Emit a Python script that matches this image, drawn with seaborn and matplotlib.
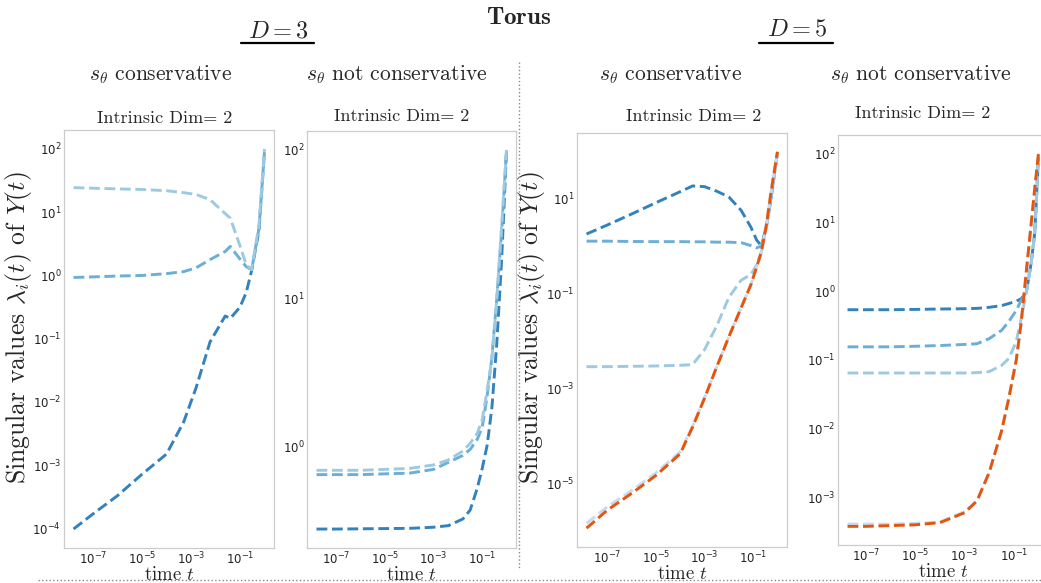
import matplotlib.pyplot as plt
import seaborn as sns
import pandas as pd
from matplotlib.lines import Line2D

# ---- data (singular values vs time) ----
# D = 3, s_theta conservative
t_d3_cons = [1.6e-8, 1e-7, 1e-6, 1e-5, 1e-4, 5e-4, 1.6e-3, 6e-3, 2.5e-2, 4e-2, 0.1, 0.18, 0.3, 0.6, 1.0]
sv1_d3_cons = [9.8e-5, 1.7e-4, 3.3e-4, 7.2e-4, 1.5e-3, 4.8e-3, 1.66e-2, 8.9e-2, 0.229, 0.209, 0.316, 0.537, 1.2, 5.25, 89]
sv2_d3_cons = [0.93, 0.95, 0.98, 1.0, 1.07, 1.15, 1.32, 1.78, 2.4, 2.88, 1.82, 1.38, 1.23, 5.6, 89]
sv3_d3_cons = [24.5, 24.0, 23.4, 22.9, 21.9, 20.4, 19.1, 15.8, 9.5, 8.1, 2.95, 1.48, 1.24, 6.3, 100]

# D = 3, s_theta not conservative
t_d3_ncons = [1.5e-8, 1e-7, 1e-6, 1e-5, 1e-4, 1e-3, 4e-3, 1.6e-2, 3.2e-2, 6.3e-2, 0.1, 0.16, 0.25, 0.4, 0.63, 1.0]
sv1_d3_ncons = [0.277, 0.277, 0.278, 0.279, 0.280, 0.285, 0.292, 0.324, 0.372, 0.525, 0.71, 1.02, 1.82, 5.0, 18.2, 98]
sv2_d3_ncons = [0.645, 0.645, 0.645, 0.653, 0.66, 0.70, 0.78, 0.87, 0.955, 1.12, 1.35, 2.19, 3.98, 10, 28, 98]
sv3_d3_ncons = [0.69, 0.69, 0.69, 0.70, 0.71, 0.75, 0.81, 0.93, 1.05, 1.23, 1.51, 2.4, 3.9, 10, 31, 100]

# D = 5, s_theta conservative
t_d5_cons = [1.4e-8, 1e-7, 1e-6, 1e-5, 1e-4, 3.2e-4, 1e-3, 3.2e-3, 1e-2, 3.2e-2, 8e-2, 0.14, 0.22, 0.35, 0.56, 1.0]
sv1_d5_cons = [1.78, 2.75, 4.68, 8.1, 13.8, 18.2, 17.6, 14.1, 10.7, 5.6, 2.5, 1.32, 1.0, 2.5, 11.2, 93]
sv2_d5_cons = [1.26, 1.26, 1.24, 1.23, 1.23, 1.22, 1.22, 1.2, 1.2, 1.17, 1.02, 0.91, 1.0, 2.5, 11.2, 93]
sv3_d5_cons = [2.9e-3, 2.9e-3, 2.95e-3, 3.0e-3, 3.1e-3, 3.2e-3, 6.6e-3, 2.1e-2, 8.3e-2, 0.19, 0.25, 0.40, 0.76, 2.5, 11.2, 93]
sv4_d5_cons = [1.48e-6, 3.3e-6, 7.2e-6, 1.7e-5, 4.7e-5, 1.6e-4, 6.4e-4, 2.9e-3, 1.23e-2, 5.0e-2, 0.151, 0.363, 0.76, 2.75, 15.1, 95]
sv5_d5_cons = [1.17e-6, 2.8e-6, 6.3e-6, 1.5e-5, 4.3e-5, 1.55e-4, 6.3e-4, 2.9e-3, 1.23e-2, 5.0e-2, 0.151, 0.363, 0.76, 2.75, 15.1, 95]

# D = 5, s_theta not conservative
t_d5_ncons = [1.8e-8, 1e-7, 1e-6, 1e-5, 1e-4, 1e-3, 3.2e-3, 1e-2, 3.2e-2, 6.3e-2, 0.126, 0.2, 0.32, 0.5, 0.71, 1.0]
sv1_d5_ncons = [0.537, 0.537, 0.537, 0.543, 0.55, 0.556, 0.562, 0.582, 0.617, 0.661, 0.716, 0.776, 0.955, 2.5, 7.1, 89]
sv2_d5_ncons = [0.155, 0.155, 0.155, 0.158, 0.162, 0.168, 0.172, 0.204, 0.269, 0.363, 0.525, 0.741, 0.955, 2.5, 7.1, 89]
sv3_d5_ncons = [0.0646, 0.0646, 0.0646, 0.0646, 0.0646, 0.0646, 0.0653, 0.0676, 0.0832, 0.105, 0.186, 0.398, 0.955, 2.5, 7.1, 89]
sv4_d5_ncons = [4.1e-4, 4.1e-4, 4.1e-4, 4.2e-4, 4.4e-4, 6.2e-4, 8.9e-4, 2.3e-3, 9.3e-3, 2.8e-2, 0.1, 0.355, 1.9, 9.1, 31.6, 100]
sv5_d5_ncons = [3.8e-4, 3.8e-4, 3.9e-4, 4.0e-4, 4.3e-4, 6.0e-4, 8.9e-4, 2.3e-3, 9.3e-3, 2.8e-2, 0.1, 0.355, 1.9, 9.1, 31.6, 100]

x_ticks = [1e-7, 1e-5, 1e-3, 1e-1]
yticks_d3_cons = [1e-4, 1e-3, 1e-2, 1e-1, 1e0, 1e1, 1e2]
yticks_d3_ncons = [1e0, 1e1, 1e2]
yticks_d5_cons = [1e-5, 1e-3, 1e-1, 1e1]
yticks_d5_ncons = [1e-3, 1e-2, 1e-1, 1e0, 1e1, 1e2]

sns.set_theme(style="whitegrid")
plt.rcParams["axes.edgecolor"] = "#cccccc"
plt.rcParams["axes.unicode_minus"] = True

colors = sns.color_palette("tab20c")[:5]
W, H = 1041, 583
SERIF = "cmr10"


def long_frame(t, series):
    rows = []
    for k, vals in enumerate(series):
        for ti, v in zip(t, vals):
            rows.append((ti, v, f"sv{k + 1}"))
    return pd.DataFrame(rows, columns=["t", "value", "component"])


def draw_panel(ax, t, series, yticks, ylabel=False):
    df = long_frame(t, series)
    ax.set(xscale="log", yscale="log")
    sns.lineplot(
        data=df,
        x="t",
        y="value",
        hue="component",
        hue_order=[f"sv{k + 1}" for k in range(len(series))],
        palette=colors[:len(series)],
        linestyle="--",
        linewidth=2.1,
        legend=False,
        ax=ax,
    )
    ax.set_xticks(x_ticks)
    ax.set_yticks(yticks)
    ax.minorticks_off()
    ax.grid(False)
    ax.tick_params(axis="both", labelsize=8.5, pad=2, length=0, colors="#222222")
    for sp in ax.spines.values():
        sp.set_color("#cccccc")
        sp.set_linewidth(0.9)
    ax.set_xlabel("time $t$", fontsize=13.5, family=SERIF, math_fontfamily="cm", labelpad=-1)
    if ylabel:
        ax.set_ylabel(r"Singular values $\lambda_i(t)$ of $Y(t)$", fontsize=18.5,
                      family=SERIF, math_fontfamily="cm")
    else:
        ax.set_ylabel("")


def px_axes(fig, left, right, top, bottom):
    return fig.add_axes([left / W, 1 - bottom / H, (right - left) / W, (bottom - top) / H])


def px_text(fig, x, y, s, **kw):
    fig.text(x / W, 1 - y / H, s, ha="center", va="center", math_fontfamily="cm", **kw)


fig = plt.figure(figsize=(W / 100, H / 100), dpi=100)

ax1 = px_axes(fig, 64, 274, 130, 548)
ax2 = px_axes(fig, 307, 516, 131, 548)
ax3 = px_axes(fig, 577, 787, 133, 547)
ax4 = px_axes(fig, 838, 1048, 135, 545)

draw_panel(ax1, t_d3_cons, [sv1_d3_cons, sv2_d3_cons, sv3_d3_cons], yticks_d3_cons, ylabel=True)
draw_panel(ax2, t_d3_ncons, [sv1_d3_ncons, sv2_d3_ncons, sv3_d3_ncons], yticks_d3_ncons)
draw_panel(ax3, t_d5_cons, [sv1_d5_cons, sv2_d5_cons, sv3_d5_cons, sv4_d5_cons, sv5_d5_cons],
           yticks_d5_cons, ylabel=True)
draw_panel(ax4, t_d5_ncons, [sv1_d5_ncons, sv2_d5_ncons, sv3_d5_ncons, sv4_d5_ncons, sv5_d5_ncons],
           yticks_d5_ncons)

ax1.yaxis.set_label_coords((34 - 64) / 210, 0.526)
ax3.yaxis.set_label_coords((547 - 577) / 210, 0.529)

# headers
px_text(fig, 519, 17, r"$\mathbf{Torus}$", fontsize=18)
px_text(fig, 278, 30, r"$D = 3$", fontsize=17.5)
px_text(fig, 797, 29, r"$D = 5$", fontsize=17.5)
fig.add_artist(Line2D([241 / W, 314 / W], [1 - 43 / H] * 2, color="black", lw=1.6))
fig.add_artist(Line2D([759 / W, 833 / W], [1 - 43 / H] * 2, color="black", lw=1.6))

for x, s in [(161, r"$s_\theta$ conservative"), (397, r"$s_\theta$ not conservative"),
             (671, r"$s_\theta$ conservative"), (921, r"$s_\theta$ not conservative")]:
    px_text(fig, x, 75, s, fontsize=15.5, family=SERIF)

for x, y in [(165, 118), (402, 116), (694, 116), (923, 113)]:
    px_text(fig, x, y, "Intrinsic Dim= 2", fontsize=13, family=SERIF)

# dotted separators
fig.add_artist(Line2D([519 / W, 519 / W], [1 - 62 / H, 1 - 570 / H], color="#888888", lw=1, ls=":"))
fig.add_artist(Line2D([38 / W, 1.0], [1 - 580 / H] * 2, color="#888888", lw=1, ls=":"))

fig.savefig("out.png", dpi=100)
